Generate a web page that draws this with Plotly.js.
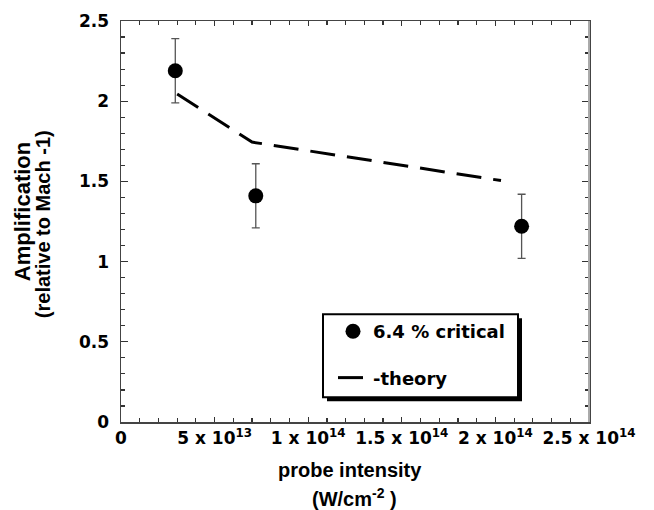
<!DOCTYPE html>
<html>
<head>
<meta charset="utf-8">
<script src="https://cdn.plot.ly/plotly-3.0.1.min.js"></script>
<style>html,body{margin:0;padding:0;background:#fff;}#chart{width:654px;height:510px;}</style>
</head>
<body>
<div id="chart"></div>
<script>
// Data
var measIntensity = [2.9e13, 7.2e13, 2.14e14];
var measAmplification = [2.19, 1.41, 1.22];
var measError = [0.2, 0.2, 0.2];

var theoryIntensity = [3.0e13, 7.0e13, 2.03e14];
var theoryAmplification = [2.045, 1.745, 1.505];

var xTickVals = [0, 5e13, 1e14, 1.5e14, 2e14, 2.5e14];
var xTickText = ['0', '5 x 10<sup>13</sup>', '1 x 10<sup>14</sup>', '1.5 x 10<sup>14</sup>', '2 x 10<sup>14</sup>', '2.5 x 10<sup>14</sup>'];
var yTickVals = [0, 0.5, 1, 1.5, 2, 2.5];
var yTickText = ['0', '0.5', '1', '1.5', '2', '2.5'];

var FONT = 'Liberation Sans, Arial, Helvetica, sans-serif';
var WFONT = 'DejaVu Sans, Verdana, sans-serif';
var L = 121, R = 589, T = 21, B = 421.7;
function px(x){ return (x - L) / (R - L); }
function py(y){ return (B - y) / (B - T); }

var traces = [
  {
    x: measIntensity, y: measAmplification,
    type: 'scatter', mode: 'markers', name: '6.4 % critical',
    legendgroup: 'a',
    marker: {symbol: 'circle', size: 15, color: '#000'},
    error_y: {type: 'data', array: measError, visible: true, color: '#555', thickness: 1.3, width: 4}
  },
  {
    x: theoryIntensity, y: theoryAmplification,
    type: 'scatter', mode: 'lines', name: '-theory',
    legendgroup: 'b',
    line: {color: '#000', width: 3, dash: '25px,12px'}
  }
];

var axisCommon = {
  showgrid: false, zeroline: false,
  showline: true, linecolor: '#444', linewidth: 1.5,
  mirror: 'allticks', ticks: 'inside', tickcolor: '#333', tickwidth: 1.2,
  tickfont: {family: WFONT, size: 17, color: '#000', weight: 'bold'}
};

var layout = {
  width: 654, height: 510,
  margin: {l: L, r: 654 - R, t: T, b: 510 - B},
  paper_bgcolor: '#fff', plot_bgcolor: '#fff',
  font: {family: FONT, color: '#000'},
  showlegend: true,
  legend: {
    x: px(333), y: py(312.8), xanchor: 'left', yanchor: 'top',
    bgcolor: 'rgba(0,0,0,0)', borderwidth: 0,
    traceorder: 'grouped', tracegroupgap: 20,
    font: {family: WFONT, size: 18, color: '#000', weight: 'bold'}
  },
  xaxis: Object.assign({}, axisCommon, {
    range: [0, 2.5e14], tickmode: 'array', tickvals: xTickVals, ticktext: xTickText,
    ticklen: 5,
    minor: {tickmode: 'linear', tick0: 0, dtick: 1e13, ticklen: 4, tickcolor: '#333', ticks: 'inside'}
  }),
  yaxis: Object.assign({}, axisCommon, {
    range: [0, 2.5], tickmode: 'array', tickvals: yTickVals, ticktext: yTickText,
    ticklen: 7, ticklabelstandoff: 7,
    minor: {tickmode: 'linear', tick0: 0, dtick: 0.1, ticklen: 4, tickcolor: '#333', ticks: 'inside'}
  }),
  shapes: [
    // legend box shadow and frame
    {type: 'rect', xref: 'paper', yref: 'paper', x0: px(327), x1: px(522), y0: py(401), y1: py(318),
     fillcolor: '#000', line: {width: 0}, layer: 'above'},
    {type: 'rect', xref: 'paper', yref: 'paper', x0: px(323), x1: px(518), y0: py(397), y1: py(314),
     fillcolor: '#fff', line: {color: '#000', width: 2}, layer: 'above'},
    // lighter right frame edge
    {type: 'line', xref: 'paper', yref: 'paper', x0: 1, x1: 1, y0: 0, y1: 1,
     line: {color: '#aaa', width: 2}, layer: 'above'}
  ],
  annotations: [
    {xref: 'paper', yref: 'paper', x: px(350), y: py(470), xanchor: 'center', yanchor: 'middle',
     showarrow: false, text: 'probe intensity',
     font: {family: FONT, size: 20, color: '#000', weight: 'bold'}},
    {xref: 'paper', yref: 'paper', x: px(354), y: py(497), xanchor: 'center', yanchor: 'middle',
     showarrow: false, text: '(W/cm<sup>-2</sup> )',
     font: {family: FONT, size: 20, color: '#000', weight: 'bold'}},
    {xref: 'paper', yref: 'paper', x: px(22), y: py(212), xanchor: 'center', yanchor: 'middle',
     showarrow: false, textangle: -90, text: 'Amplification',
     font: {family: FONT, size: 22, color: '#000', weight: 'bold'}},
    {xref: 'paper', yref: 'paper', x: px(43), y: py(224), xanchor: 'center', yanchor: 'middle',
     showarrow: false, textangle: -90, text: '(relative to Mach -1)',
     font: {family: FONT, size: 20, color: '#000', weight: 'bold'}}
  ]
};

Plotly.newPlot('chart', traces, layout, {displayModeBar: false, staticPlot: true});
</script>
</body>
</html>
